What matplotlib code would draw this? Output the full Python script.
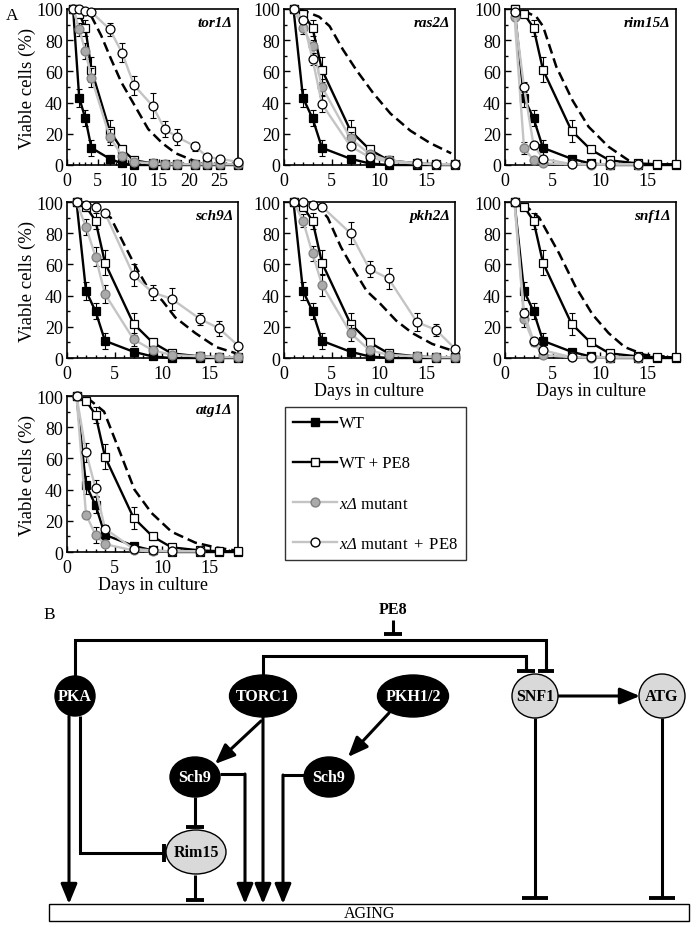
import matplotlib
matplotlib.use("Agg")
import matplotlib.pyplot as plt
from matplotlib.lines import Line2D
from matplotlib.patches import Ellipse, Rectangle

plt.rcParams["font.family"] = ["Liberation Serif", "DejaVu Serif"]
plt.rcParams["mathtext.fontset"] = "custom"
plt.rcParams["mathtext.rm"] = "Liberation Serif"
plt.rcParams["mathtext.it"] = "Liberation Serif:italic"
plt.rcParams["mathtext.bf"] = "Liberation Serif:bold"

# ---- data ----
days = [1, 2, 3, 4, 7, 9, 11, 14, 16, 18, 21, 23, 25, 28]

wt = [100, 43, 30, 11, 4, 1, 0, 0, 0, 0, 0, 0, 0, 0]
wt_err = [0, 6, 5, 5, 1.5, 0, 0, 0, 0, 0, 0, 0, 0, 0]
wt_pe8 = [100, 97, 88, 61, 22, 10, 3, 1, 0.5, 0.5, 0.5, 0.5, 0.5, 0.5]
wt_pe8_err = [0, 2, 5, 8, 7, 2, 1, 0, 0, 0, 0, 0, 0, 0]

tor1_mut = [100, 87, 73, 56, 18, 6, 2, 1, 0.5, 0.5, 0.5, 0.5, 0.5, 0.5]
tor1_mut_err = [0, 4, 5, 6, 5, 1, 0, 0, 0, 0, 0, 0, 0, 0]
tor1_pe8 = [100, 100, 99, 98, 87, 72, 51, 38, 23, 18, 12, 5, 4, 2]
tor1_pe8_err = [0, 0, 0, 0, 4, 6, 6, 8, 5, 5, 3, 1, 1, 0]
tor1_dash_x = [1.7, 3.9, 5.6, 7.2, 8.9, 11.1, 13.3, 15.6, 17.8, 20.6, 22]
tor1_dash_y = [100, 96, 83, 68, 53, 38, 23, 14, 7.5, 3, 1]

ras2_mut = [100, 88, 76, 50, 17, 7, 3, 1, 0.5, 0.5]
ras2_mut_err = [0, 4, 4, 5, 4, 1, 0, 0, 0, 0]
ras2_pe8 = [100, 93, 68, 39, 12, 5, 2, 1, 0.5, 0.5]
ras2_pe8_err = [0, 2, 4, 5, 2, 1, 0, 0, 0, 0]
ras2_dash_x = [1.6, 3.7, 4.8, 6.2, 7.6, 9.4, 11.2, 13.3, 15.4, 17.6]
ras2_dash_y = [100, 95, 89, 74, 61, 46, 33, 22, 14, 7.5]

rim15_mut = [95, 11, 3, 1, 0.5, 0.3, 0.3, 0.3]
rim15_mut_err = [0, 4, 1, 0, 0, 0, 0, 0]
rim15_pe8 = [98, 50, 13, 4, 0.5, 0.5, 0.5, 0.5]
rim15_pe8_err = [0, 3, 2, 1, 0, 0, 0, 0]
rim15_dash_x = [1.9, 3.3, 4.0, 5.4, 7.1, 8.8, 10.9, 13, 14]
rim15_dash_y = [99, 95, 89, 63, 41.5, 24.5, 11.7, 3, 1]

sch9_mut = [100, 84, 65, 41, 12, 5, 2, 1, 0.5, 0.5]
sch9_mut_err = [0, 5, 6, 6, 4, 1, 0, 0, 0, 0]
sch9_pe8 = [100, 98, 97, 93, 53, 42, 38, 25, 19, 8]
sch9_pe8_err = [0, 0, 0, 2, 7, 5, 7, 4, 5, 1]
sch9_dash_x = [2.5, 4.6, 6.0, 7.1, 8.5, 10, 11.4, 13.5, 15.7, 17.8]
sch9_dash_y = [98, 90, 73, 60, 45, 37, 26, 16, 7, 3]

pkh2_mut = [100, 88, 67, 47, 16, 5, 2, 1, 0.5, 0.5]
pkh2_mut_err = [0, 4, 5, 7, 5, 1, 0, 0, 0, 0]
pkh2_pe8 = [100, 100, 98, 97, 80, 57, 51, 23, 18, 6]
pkh2_pe8_err = [0, 0, 0, 0, 7, 5, 7, 6, 4, 1]
pkh2_dash_x = [3.3, 4.6, 6.0, 7.4, 8.7, 10.1, 11.8, 13.5, 15.6, 17.6]
pkh2_dash_y = [99, 90, 71, 56, 43, 35, 24, 16, 9, 5]

snf1_mut = [100, 25, 10, 2, 0.5, 0.3, 0.3, 0.3]
snf1_mut_err = [0, 5, 2, 1, 0, 0, 0, 0]
snf1_pe8 = [100, 29, 11, 5, 0.5, 0.5, 0.5, 0.5]
snf1_pe8_err = [0, 3, 2, 1, 0, 0, 0, 0]
snf1_dash_x = [1.9, 3.6, 5.7, 7.4, 9.2, 10.9, 12.6, 14.7, 16.8]
snf1_dash_y = [99, 90, 67, 46, 28, 16, 7, 2, 1]

atg1_mut = [100, 24, 11, 5, 1, 0.5, 0.5, 0.5]
atg1_mut_err = [0, 2, 5, 2, 0, 0, 0, 0]
atg1_pe8 = [100, 64, 41, 15, 2, 1, 0.5, 0.5]
atg1_pe8_err = [0, 6, 5, 2, 0, 0, 0, 0]
atg1_dash_x = [2.1, 3.9, 5.7, 7.1, 8.9, 11, 13.5, 15.6, 17.7]
atg1_dash_y = [99, 90, 62, 40, 25, 13, 6, 3, 1]

# "xΔ" italic (text style), rest upright via mathtext rm
legend_labels = ["WT", "WT + PE8", r"xΔ $\mathrm{mutant}$", r"xΔ $\mathrm{mutant\ +\ PE8}$"]
legend_italic = [False, False, True, True]

# ---- layout ----
W, H = 696, 928
fig = plt.figure(figsize=(W / 100, H / 100), dpi=100)

GRAY_LINE = "#c4c4c4"
GRAY_FILL = "#aaaaaa"


def px_axes(left, top, width, height):
    return fig.add_axes([left / W, 1 - (top + height) / H, width / W, height / H])


def draw_panel(ax, name, n, mut, mut_err, pe8, pe8_err, dash_x, dash_y, xmax, n_wt):
    x_wt = days[:n_wt]
    x_mut = days[:n]
    ax.plot(dash_x, dash_y, color="black", lw=1.8, ls=(0, (4, 2)), zorder=2)

    def series(x, y, err, lc, mk, mfc, mec, z):
        xs = [a for a, e in zip(x, err) if e > 0]
        ys = [b for b, e in zip(y, err) if e > 0]
        es = [e for e in err if e > 0]
        if xs:
            ax.errorbar(xs, ys, yerr=es, fmt="none", ecolor="black", elinewidth=0.8,
                        capsize=2.5, capthick=0.8, zorder=z)
        ax.plot(x, y, color=lc, lw=1.7, marker=mk, ms=6.4, mfc=mfc, mec=mec, mew=0.9,
                zorder=z + 0.5, clip_on=False)

    series(x_wt, wt[:n_wt], wt_err[:n_wt], "black", "s", "black", "black", 3)
    series(x_wt, wt_pe8[:n_wt], wt_pe8_err[:n_wt], "black", "s", "white", "black", 4)
    series(x_mut, mut, mut_err, GRAY_LINE, "o", GRAY_FILL, "#808080", 5)
    series(x_mut, pe8, pe8_err, GRAY_LINE, "o", "white", "black", 6)

    ax.set_xlim(0, xmax)
    ax.set_ylim(0, 100)
    ax.set_yticks([0, 20, 40, 60, 80, 100])
    ax.set_yticks(range(0, 101, 10), minor=True)
    ax.set_xticks(range(0, xmax, 5))
    ax.set_xticks(range(0, xmax + 1), minor=True)
    ax.tick_params(direction="in", which="both", labelsize=13, width=1, pad=3)
    ax.tick_params(which="major", length=4)
    ax.tick_params(which="minor", length=2.5)
    ax.tick_params(axis="x", pad=5)
    for s in ax.spines.values():
        s.set_linewidth(1.2)
    ax.text(0.97, 0.955, name, transform=ax.transAxes, ha="right", va="top",
            fontsize=11, fontweight="bold", fontstyle="italic")


lefts = [67, 284, 505]
tops = [10, 203, 397]
pw, ph = 171, 156

panels = [
    ("tor1Δ", 14, tor1_mut, tor1_mut_err, tor1_pe8, tor1_pe8_err, tor1_dash_x, tor1_dash_y, 28, 14),
    ("ras2Δ", 10, ras2_mut, ras2_mut_err, ras2_pe8, ras2_pe8_err, ras2_dash_x, ras2_dash_y, 18, 10),
    ("rim15Δ", 8, rim15_mut, rim15_mut_err, rim15_pe8, rim15_pe8_err, rim15_dash_x, rim15_dash_y, 18, 10),
    ("sch9Δ", 10, sch9_mut, sch9_mut_err, sch9_pe8, sch9_pe8_err, sch9_dash_x, sch9_dash_y, 18, 10),
    ("pkh2Δ", 10, pkh2_mut, pkh2_mut_err, pkh2_pe8, pkh2_pe8_err, pkh2_dash_x, pkh2_dash_y, 18, 10),
    ("snf1Δ", 8, snf1_mut, snf1_mut_err, snf1_pe8, snf1_pe8_err, snf1_dash_x, snf1_dash_y, 18, 10),
    ("atg1Δ", 8, atg1_mut, atg1_mut_err, atg1_pe8, atg1_pe8_err, atg1_dash_x, atg1_dash_y, 18, 10),
]

for i, p in enumerate(panels):
    ax = px_axes(lefts[i % 3], tops[i // 3], pw, ph)
    draw_panel(ax, *p)
    if i % 3 == 0:
        ax.set_ylabel("Viable cells (%)", fontsize=13.5, labelpad=0)
    if i in (4, 5, 6):
        ax.set_xlabel("Days in culture", fontsize=13, labelpad=0)

fig.text(6 / W, 1 - 16 / H, "A", fontsize=12.5, va="center")

# legend
handles = [
    Line2D([], [], color="black", lw=1.7, marker="s", ms=6.4, mfc="black", mec="black"),
    Line2D([], [], color="black", lw=1.7, marker="s", ms=6.4, mfc="white", mec="black"),
    Line2D([], [], color=GRAY_LINE, lw=1.7, marker="o", ms=6.4, mfc=GRAY_FILL, mec="#808080"),
    Line2D([], [], color=GRAY_LINE, lw=1.7, marker="o", ms=6.4, mfc="white", mec="black"),
]
leg = fig.legend(handles, legend_labels, loc="upper left", bbox_to_anchor=(285 / W, 1 - 408 / H),
                 fontsize=12, frameon=True, fancybox=False, edgecolor="black",
                 handlelength=2.6, handletextpad=0.15, labelspacing=1.45, borderpad=0.5,
                 borderaxespad=0)
leg.get_frame().set_linewidth(1.0)
for t, it in zip(leg.get_texts(), legend_italic):
    if it:
        t.set_fontstyle("italic")

# ---- panel B: pathway diagram ----
axb = fig.add_axes([0, 0, 1, 1])
axb.set_xlim(0, W)
axb.set_ylim(H, 0)
axb.axis("off")
axb.patch.set_alpha(0)

LW = 2.2
LIGHT = "#d9d9d9"


def line(pts):
    xs, ys = zip(*pts)
    axb.plot(xs, ys, color="black", lw=LW, solid_capstyle="butt", solid_joinstyle="miter")


def arrow(pts):
    if len(pts) > 2:
        line(pts[:-1])
    axb.annotate("", xy=pts[-1], xytext=pts[-2],
                 arrowprops=dict(arrowstyle="-|>,head_length=0.8,head_width=0.33",
                                 color="black", lw=LW, shrinkA=0, shrinkB=0,
                                 mutation_scale=15))


def tbar(pts, half=9, vertical_bar=False):
    line(pts)
    x, y = pts[-1]
    if vertical_bar:
        axb.plot([x, x], [y - half, y + half], color="black", lw=LW + 0.6, solid_capstyle="butt")
    else:
        axb.plot([x - half, x + half], [y, y], color="black", lw=LW + 0.6, solid_capstyle="butt")


nodes = [
    ("PKA", 75, 697, 40, 40, "black", "white"),
    ("TORC1", 263, 697, 67, 42, "black", "white"),
    ("PKH1/2", 413, 697, 71, 42, "black", "white"),
    ("Sch9", 195, 778, 50, 40, "black", "white"),
    ("Sch9", 329, 778, 50, 40, "black", "white"),
    ("Rim15", 196, 853, 60, 44, LIGHT, "black"),
    ("SNF1", 535, 697, 46, 44, LIGHT, "black"),
    ("ATG", 662, 697, 46, 44, LIGHT, "black"),
]

# connections
line([(75, 677), (75, 641), (546, 641), (546, 671)])
tbar([(546, 660), (546, 672)], half=8)
line([(263, 676), (263, 657), (526, 657), (526, 671)])
tbar([(526, 660), (526, 672)], half=9)
tbar([(393, 621), (393, 635)], half=9)
axb.text(393, 610, "PE8", ha="center", va="center", fontsize=11.5, fontweight="bold")

arrow([(558, 697), (640, 697)])
tbar([(535, 719), (535, 899)], half=13)
tbar([(662, 719), (662, 899)], half=13)

arrow([(69, 717), (69, 905)])
tbar([(80, 717), (80, 854), (164, 854)], half=9, vertical_bar=True)
arrow([(261, 722), (215, 765)])
arrow([(263, 718), (263, 905)])
arrow([(220, 775), (245, 775), (245, 905)])
tbar([(195, 798), (195, 828)], half=9)
tbar([(195, 876), (195, 901)], half=9)
arrow([(389, 714), (348, 758)])
arrow([(304, 776), (283, 776), (283, 905)])

for label, cx, cy, w, h, fc, tc in nodes:
    axb.add_patch(Ellipse((cx, cy), w, h, facecolor=fc, edgecolor="black", lw=1.0, zorder=5))
    axb.text(cx, cy, label, ha="center", va="center", color=tc, fontsize=11.5,
             fontweight="bold", zorder=6)

axb.add_patch(Rectangle((49, 905), 640, 17, facecolor="white", edgecolor="black", lw=1.0, zorder=4))
axb.text(370, 914, "AGING", ha="center", va="center", fontsize=11.5, zorder=6)
axb.text(49, 615, "B", ha="center", va="center", fontsize=12.5)

fig.savefig("out.png", dpi=100)
